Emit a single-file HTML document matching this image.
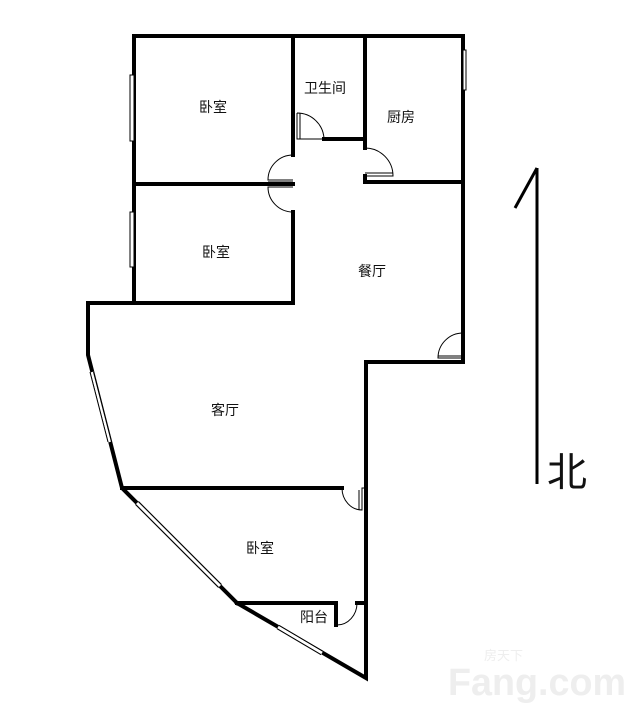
<!DOCTYPE html>
<html><head><meta charset="utf-8"><style>
html,body{margin:0;padding:0;background:#fff;}
svg{display:block}
text{font-family:"Liberation Sans","Noto Sans CJK SC",sans-serif;fill:#111;}
</style></head><body>
<svg width="634" height="705" viewBox="0 0 634 705" xmlns="http://www.w3.org/2000/svg">
<rect width="634" height="705" fill="#fff"/>
<g stroke="#000" stroke-width="4" fill="none" stroke-linecap="square">
<polyline points="134,303 134,36 463,36 463,362 366,362 366,678 237,603"/>
<polyline points="237,603 122,488 88,355 88,303 134,303"/>
<line x1="134" y1="303" x2="293" y2="303"/>
<line x1="293" y1="36" x2="293" y2="155"/>
<line x1="293" y1="212" x2="293" y2="303"/>
<line x1="134" y1="184" x2="293" y2="184"/>
<line x1="365" y1="36" x2="365" y2="148"/>
<line x1="365" y1="176" x2="365" y2="182"/>
<line x1="365" y1="182" x2="463" y2="182"/>
<line x1="324" y1="139" x2="365" y2="139"/>
<line x1="122" y1="488" x2="342" y2="488"/>
<line x1="237" y1="603" x2="336" y2="603"/>
<line x1="336" y1="603" x2="336" y2="625"/>
<line x1="357" y1="603" x2="366" y2="603"/>
<line x1="463" y1="333" x2="463" y2="362"/>
</g>
<g stroke="#000" stroke-width="1" fill="#fff">
<rect x="130" y="75" width="4" height="66"/>
<rect x="130" y="212" width="4" height="55"/>
<rect x="463" y="50" width="3" height="40"/>
</g>
<!-- diagonal windows: white gap with two thin lines over wall -->
<g stroke-linecap="butt">
<line x1="92" y1="372" x2="110" y2="442" stroke="#fff" stroke-width="3"/>
<line x1="90" y1="372" x2="108" y2="442" stroke="#000" stroke-width="1"/>
<line x1="93.5" y1="372" x2="111.5" y2="442" stroke="#000" stroke-width="1"/>
<line x1="137" y1="503" x2="220" y2="586" stroke="#fff" stroke-width="3"/>
<line x1="135.5" y1="504.5" x2="218.5" y2="587.5" stroke="#000" stroke-width="1"/>
<line x1="138.5" y1="501.5" x2="221.5" y2="584.5" stroke="#000" stroke-width="1"/>
<line x1="278" y1="627" x2="322" y2="653" stroke="#fff" stroke-width="3"/>
<line x1="277" y1="628.7" x2="321" y2="654.7" stroke="#000" stroke-width="1"/>
<line x1="279" y1="625.3" x2="323" y2="651.3" stroke="#000" stroke-width="1"/>
</g>
<g stroke="#000" stroke-width="1" fill="none">
<path d="M297,113 L297,139 L324,139 A27,27 0 0 0 297,113"/>
<line x1="300" y1="113" x2="300" y2="139"/>
<path d="M293,155 A25,25 0 0 0 268,180 L293,180"/>
<line x1="268" y1="182" x2="293" y2="182"/>
<path d="M293,212 A25,25 0 0 1 268,187 L293,187"/>
<path d="M365,148 A28,28 0 0 1 393,176 L365,176"/>
<line x1="365" y1="173" x2="393" y2="173"/>
<path d="M463,333 A25,25 0 0 0 438,358 L463,358"/>
<line x1="438" y1="356" x2="463" y2="356"/>
<path d="M342,488 A20,22 0 0 0 362,510 L362,488 L366,488"/>
<line x1="359" y1="490" x2="359" y2="510"/>
<path d="M357,603 A20,22 0 0 1 337,625"/>
</g>
<line x1="537" y1="168" x2="537" y2="484" stroke="#000" stroke-width="3"/>
<line x1="537" y1="168" x2="515" y2="208" stroke="#000" stroke-width="3"/>
<g font-size="14" text-anchor="middle">
<text x="213" y="112">卧室</text>
<text x="325" y="93">卫生间</text>
<text x="401" y="122">厨房</text>
<text x="216" y="257">卧室</text>
<text x="372" y="276">餐厅</text>
<text x="225" y="415">客厅</text>
<text x="260" y="553">卧室</text>
<text x="314" y="622">阳台</text>
</g>
<text x="567" y="486" font-size="40" text-anchor="middle">北</text>
<text x="448" y="695" font-size="38" font-weight="bold" textLength="178" lengthAdjust="spacingAndGlyphs" style="fill:#eeeeee">Fang.com</text>
<text x="484" y="660" font-size="13" style="fill:#eeeeee">房天下</text>
</svg>
</body></html>
